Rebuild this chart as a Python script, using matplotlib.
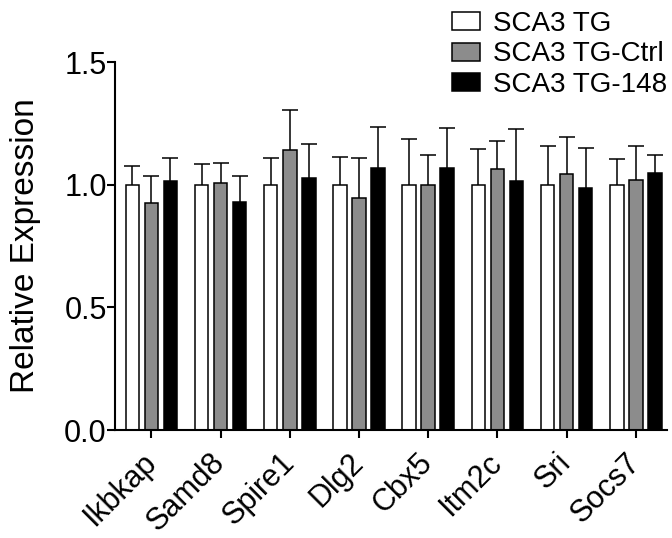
import matplotlib
import numpy as np

matplotlib.use("Agg")
import matplotlib.pyplot as plt

genes = ["Ikbkap", "Samd8", "Spire1", "Dlg2", "Cbx5", "Itm2c", "Sri", "Socs7"]
groups = ["SCA3 TG", "SCA3 TG-Ctrl", "SCA3 TG-148"]

tg = [1.0, 1.0, 1.0, 1.0, 1.0, 1.0, 1.0, 1.0]
tg_ctrl = [0.925, 1.005, 1.142, 0.947, 1.0, 1.062, 1.043, 1.018]
tg_148 = [1.013, 0.929, 1.026, 1.069, 1.066, 1.015, 0.988, 1.047]

tg_sem = [0.076, 0.086, 0.108, 0.112, 0.187, 0.146, 0.158, 0.104]
tg_ctrl_sem = [0.112, 0.085, 0.162, 0.161, 0.12, 0.118, 0.151, 0.14]
tg_148_sem = [0.095, 0.107, 0.141, 0.167, 0.164, 0.211, 0.161, 0.073]

faces = ["white", "#8c8c8c", "black"]

plt.rcParams["font.family"] = ["Liberation Sans", "DejaVu Sans"]

fig = plt.figure(figsize=(6.72, 5.38), dpi=100)
ax = fig.add_axes([115 / 672, 1 - 430 / 538, 552 / 672, 368 / 538])

x = np.arange(len(genes))
step = 0.275
width = 0.195
series = [(tg, tg_sem), (tg_ctrl, tg_ctrl_sem), (tg_148, tg_148_sem)]
for i, ((vals, sem), fc, lab) in enumerate(zip(series, faces, groups)):
    xs = x + (i - 1) * step
    vals = np.asarray(vals)
    sem = np.asarray(sem)
    ax.bar(xs, vals, width=width, color=fc, edgecolor="black", linewidth=1.1,
           label=lab, zorder=2)
    _, caps, _ = ax.errorbar(xs, vals, yerr=[np.zeros_like(sem), sem], fmt="none",
                             ecolor="black", elinewidth=1.1, capsize=5.5,
                             capthick=1.1, zorder=1)
    # GraphPad style: upper cap only
    for c in caps:
        if np.allclose(c.get_ydata(), vals):
            c.set_visible(False)

ax.set_xlim(-0.525, 7.45)
ax.set_ylim(0, 1.5)
ax.set_yticks([0, 0.5, 1.0, 1.5])
ax.set_yticklabels(["0.0", "0.5", "1.0", "1.5"])
ax.set_xticks(x)
ax.set_xticklabels(genes, rotation=45, ha="right", va="center",
                   rotation_mode="anchor")

for s in ("top", "right"):
    ax.spines[s].set_visible(False)
for s in ("left", "bottom"):
    ax.spines[s].set_linewidth(1.5)
ax.tick_params(axis="both", width=1.5, length=5.5, direction="out")
ax.tick_params(axis="y", pad=0.5, labelsize=22)
ax.tick_params(axis="x", pad=15, labelsize=22)

ax.set_ylabel("Relative Expression", fontsize=24)
ax.yaxis.set_label_coords(-0.134, 0.5)

ax.legend(loc="upper left", bbox_to_anchor=(452 / 672, 1 - 11 / 538),
          bbox_transform=fig.transFigure, frameon=False, fontsize=20,
          handlelength=1.0, handleheight=0.62, handletextpad=0.47,
          labelspacing=0.16, borderpad=0, borderaxespad=0)

fig.savefig("out.png", dpi=100)
